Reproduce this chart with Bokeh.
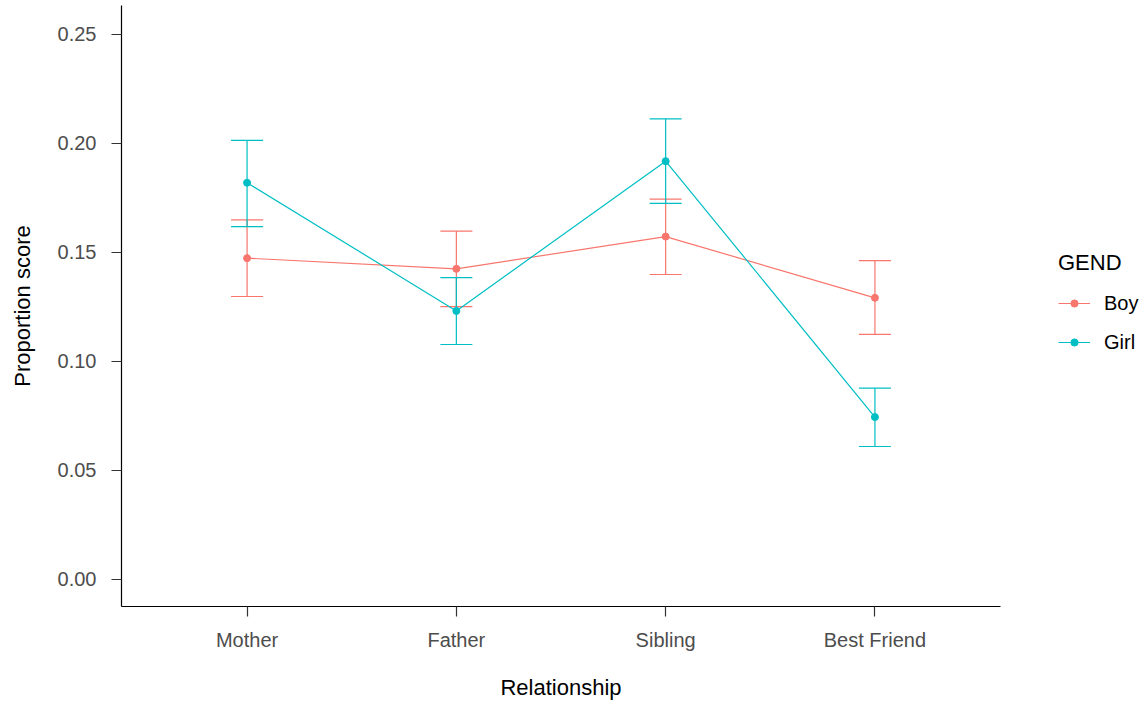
from bokeh.plotting import figure
from bokeh.models import (ColumnDataSource, FactorRange, Range1d, FixedTicker,
                          Whisker, TeeHead, Legend, LegendItem, NumeralTickFormatter)
from bokeh.embed import file_html
from bokeh.resources import INLINE

relationships = ["Mother", "Father", "Sibling", "Best Friend"]
genders = ["Boy", "Girl"]
colors = {"Boy": "#F8766D", "Girl": "#00BFC4"}

boy_mean = [0.1474, 0.1425, 0.1573, 0.1292]
boy_lower = [0.1298, 0.1252, 0.1399, 0.1124]
boy_upper = [0.1650, 0.1598, 0.1745, 0.1463]

girl_mean = [0.1820, 0.1232, 0.1919, 0.0745]
girl_lower = [0.1619, 0.1078, 0.1725, 0.0610]
girl_upper = [0.2014, 0.1385, 0.2113, 0.0878]

y_ticks = [0.00, 0.05, 0.10, 0.15, 0.20, 0.25]

FONT = "Liberation Sans"

p = figure(frame_width=879, frame_height=601,
           x_range=FactorRange(factors=relationships, range_padding=0.05),
           y_range=Range1d(-0.0124, 0.2633),
           output_backend="svg", toolbar_location=None,
           min_border_left=121, min_border_right=142,
           min_border_top=5, min_border_bottom=96)

p.outline_line_color = None
p.xgrid.visible = False
p.ygrid.visible = False
p.background_fill_color = "white"
p.border_fill_color = "white"

data = {
    "Boy": (boy_mean, boy_lower, boy_upper),
    "Girl": (girl_mean, girl_lower, girl_upper),
}

items = []
for g in genders:
    m, lo, up = data[g]
    src = ColumnDataSource(dict(x=relationships, y=m, lower=lo, upper=up))
    c = colors[g]
    ln = p.line("x", "y", source=src, line_color=c, line_width=1.2)
    sc = p.scatter("x", "y", source=src, size=7, fill_color=c, line_color=c)
    w = Whisker(base="x", upper="upper", lower="lower", source=src,
                dimension="height", line_color=c, line_width=1.2,
                upper_head=TeeHead(size=32, line_color=c, line_width=1.2),
                lower_head=TeeHead(size=32, line_color=c, line_width=1.2))
    p.add_layout(w)
    items.append(LegendItem(label=g, renderers=[ln, sc]))

# axes
p.yaxis.ticker = FixedTicker(ticks=y_ticks)
p.yaxis.formatter = NumeralTickFormatter(format="0.00")
p.yaxis.minor_tick_line_color = None
p.xaxis.minor_tick_line_color = None
for ax in (p.xaxis, p.yaxis):
    ax.axis_line_color = "black"
    ax.axis_line_width = 1.2
    ax.major_tick_line_color = "#333333"
    ax.major_tick_line_width = 1.2
    ax.major_tick_in = 0
    ax.major_tick_out = 10
    ax.major_label_text_font = FONT
    ax.major_label_text_font_size = "20px"
    ax.major_label_text_color = "#4D4D4D"
    ax.axis_label_text_font = FONT
    ax.axis_label_text_font_size = "22px"
    ax.axis_label_text_font_style = "normal"
    ax.axis_label_text_color = "black"

p.xaxis.axis_label = "Relationship"
p.yaxis.axis_label = "Proportion score"
p.xaxis.major_label_standoff = 12
p.xaxis.axis_label_standoff = 21
p.yaxis.major_label_standoff = 15
p.yaxis.axis_label_standoff = 20

legend = Legend(items=items, location="left",
                title="GEND", title_text_font=FONT, title_text_font_size="22px",
                title_text_font_style="normal", title_text_color="black",
                title_standoff=8,
                label_text_font=FONT, label_text_font_size="20px",
                label_text_color="black",
                glyph_width=32, glyph_height=18, label_height=39, label_width=36,
                label_standoff=14, spacing=0, padding=0, margin=58,
                border_line_color=None, background_fill_alpha=0)
p.add_layout(legend, "right")

open("out.html", "w").write(file_html(p, INLINE))
